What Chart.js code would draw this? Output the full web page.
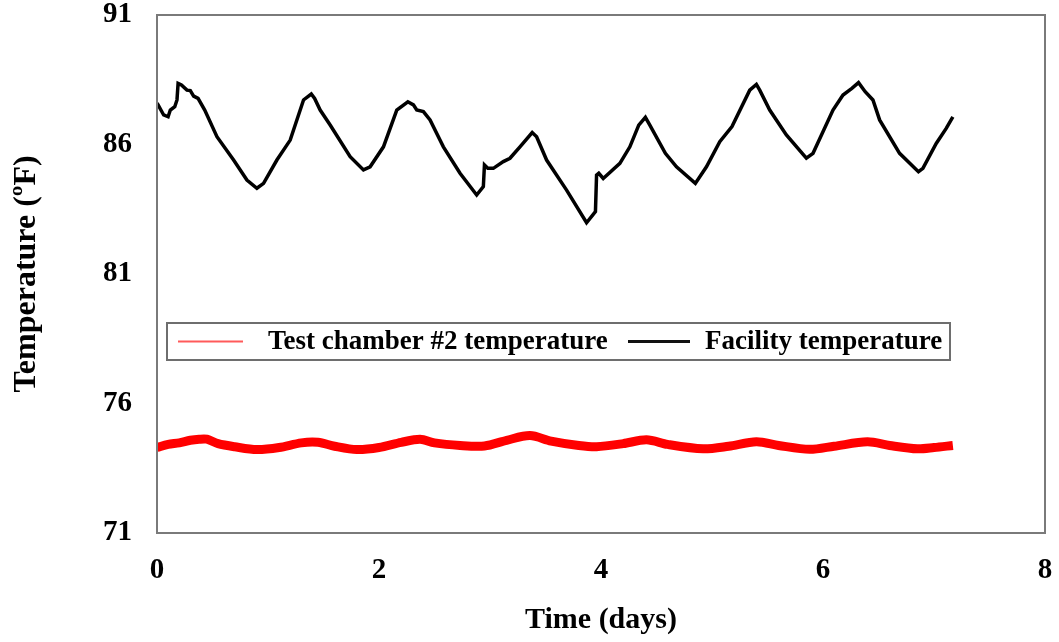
<!DOCTYPE html>
<html>
<head>
  <meta charset="UTF-8" />
  <title>Temperature</title>
  <style>
    html, body { margin: 0; padding: 0; background: #ffffff; }
    #wrap { width: 1059px; height: 642px; position: relative; }
  </style>
</head>
<body>
  <div id="wrap"><canvas id="tempChart" width="1059" height="642"></canvas></div>

  <script src="https://cdn.jsdelivr.net/npm/chart.js"></script>
  <script>
    // facility (black) curve
    const facilityDays = [0.00, 0.01, 0.06, 0.10, 0.12, 0.16, 0.18, 0.19, 0.22, 0.27, 0.30, 0.33, 0.37, 0.43, 0.54, 0.69, 0.81, 0.90, 0.96,
      1.08, 1.20, 1.32, 1.39, 1.42, 1.47, 1.56, 1.74, 1.86, 1.92, 2.04, 2.16, 2.26, 2.31, 2.34, 2.40, 2.46, 2.58, 2.73, 2.88,
      2.94, 2.95, 2.98, 3.03, 3.12, 3.18, 3.27, 3.38, 3.42, 3.51, 3.69, 3.87, 3.95, 3.96, 3.98, 4.02, 4.17, 4.26, 4.34, 4.40,
      4.44, 4.58, 4.68, 4.85, 4.95, 5.07, 5.18, 5.34, 5.40, 5.43, 5.52, 5.67, 5.85, 5.91, 6.09, 6.18, 6.26, 6.32, 6.38, 6.45,
      6.51, 6.69, 6.86, 6.90, 7.02, 7.11, 7.17];
    const facilityTemp = [87.60, 87.53, 87.14, 87.07, 87.33, 87.46, 87.72, 88.36, 88.30, 88.10, 88.08, 87.87, 87.78, 87.33, 86.30, 85.40, 84.63, 84.31, 84.50,
      85.40, 86.17, 87.72, 87.95, 87.78, 87.33, 86.75, 85.53, 85.02, 85.14, 85.91, 87.33, 87.65, 87.53, 87.33, 87.27, 86.95, 85.91, 84.89, 84.05,
      84.37, 85.21, 85.08, 85.08, 85.34, 85.47, 85.91, 86.46, 86.30, 85.40, 84.24, 82.98, 83.41, 84.82, 84.89, 84.69, 85.27, 85.91, 86.75, 87.05,
      86.75, 85.66, 85.14, 84.50, 85.14, 86.11, 86.69, 88.10, 88.32, 88.10, 87.33, 86.37, 85.47, 85.66, 87.33, 87.91, 88.17, 88.39, 88.04, 87.72,
      86.95, 85.66, 84.95, 85.08, 86.04, 86.62, 87.07];

    // test chamber #2 (red) curve
    const chamberDays = [0.00, 0.10, 0.20, 0.30, 0.38, 0.45, 0.55, 0.70, 0.90, 1.10, 1.30, 1.45, 1.60, 1.80, 2.00, 2.20, 2.37, 2.50, 2.73,
      2.95, 3.15, 3.36, 3.55, 3.80, 3.96, 4.20, 4.41, 4.60, 4.92, 5.15, 5.40, 5.60, 5.88, 6.10, 6.40, 6.60, 6.85, 7.00, 7.17];
    const chamberTemp = [74.30, 74.42, 74.48, 74.58, 74.62, 74.62, 74.45, 74.33, 74.22, 74.30, 74.48, 74.50, 74.35, 74.22, 74.30, 74.50, 74.62, 74.48, 74.38,
      74.36, 74.58, 74.76, 74.55, 74.38, 74.33, 74.45, 74.60, 74.42, 74.25, 74.35, 74.52, 74.38, 74.23, 74.35, 74.52, 74.38, 74.25, 74.30, 74.38];

    const yTicks = [71, 76, 81, 86, 91];
    const xTicks = [0, 2, 4, 6, 8];
    const seriesNames = ["Test chamber #2 temperature", "Facility temperature"];

    const serif = "'Liberation Serif', 'Times New Roman', serif";

    // frame + legend box drawn over the plot
    const frameAndLegend = {
      id: 'frameAndLegend',
      afterDraw(chart) {
        const { ctx, chartArea: a } = chart;
        ctx.save();
        ctx.strokeStyle = '#7a7a7a';
        ctx.lineWidth = 2;
        ctx.strokeRect(a.left, a.top, a.right - a.left, a.bottom - a.top);

        // legend
        const lx = 167, ly = 323, lw = 783, lh = 37;
        ctx.fillStyle = '#ffffff';
        ctx.fillRect(lx, ly, lw, lh);
        ctx.strokeStyle = '#6e6e6e';
        ctx.lineWidth = 2;
        ctx.strokeRect(lx, ly, lw, lh);
        const cy = ly + lh / 2;

        ctx.strokeStyle = '#ff5a5a';
        ctx.lineWidth = 2;
        ctx.beginPath(); ctx.moveTo(178, cy); ctx.lineTo(243, cy); ctx.stroke();
        ctx.strokeStyle = '#111111';
        ctx.lineWidth = 3;
        ctx.beginPath(); ctx.moveTo(628, cy); ctx.lineTo(690, cy); ctx.stroke();

        ctx.fillStyle = '#000000';
        ctx.font = "bold 27px " + serif;
        ctx.textBaseline = 'middle';
        ctx.textAlign = 'left';
        ctx.fillText(seriesNames[0], 268, cy + 1);
        ctx.fillText(seriesNames[1], 705, cy + 1);
        ctx.restore();
      }
    };

    const toPoints = (xs, ys) => xs.map((x, i) => ({ x: x, y: ys[i] }));

    new Chart(document.getElementById('tempChart'), {
      type: 'line',
      data: {
        datasets: [
          {
            label: seriesNames[0],
            data: toPoints(chamberDays, chamberTemp),
            borderColor: '#ff0000',
            borderWidth: 9,
            pointRadius: 0,
            tension: 0.3
          },
          {
            label: seriesNames[1],
            data: toPoints(facilityDays, facilityTemp),
            borderColor: '#000000',
            borderWidth: 3.5,
            pointRadius: 0,
            tension: 0
          }
        ]
      },
      options: {
        responsive: false,
        animation: false,
        layout: { padding: { left: 0, right: 14, top: 15, bottom: 0 } },
        plugins: {
          legend: { display: false },
          tooltip: { enabled: false }
        },
        scales: {
          x: {
            type: 'linear',
            min: 0,
            max: 8,
            afterBuildTicks: s => { s.ticks = xTicks.map(v => ({ value: v })); },
            afterFit: s => { s.height = 109; s.paddingLeft = 0; s.paddingRight = 0; },
            grid: { display: false, drawTicks: false },
            border: { display: false },
            ticks: { color: '#000', padding: 20, font: { family: serif, size: 29, weight: 'bold' } },
            title: {
              display: true,
              text: 'Time (days)',
              color: '#000',
              padding: { top: 0, bottom: 4 },
              font: { family: serif, size: 30, weight: 'bold' }
            }
          },
          y: {
            min: 71,
            max: 91,
            afterBuildTicks: s => { s.ticks = yTicks.map(v => ({ value: v })); },
            afterFit: s => { s.width = 157; s.paddingTop = 0; s.paddingBottom = 0; },
            grid: { display: false, drawTicks: false },
            border: { display: false },
            ticks: { color: '#000', padding: 25, font: { family: serif, size: 29, weight: 'bold' } },
            title: {
              display: true,
              text: 'Temperature (ºF)',
              color: '#000',
              padding: { top: 8, bottom: 0 },
              font: { family: serif, size: 32, weight: 'bold' }
            }
          }
        }
      },
      plugins: [frameAndLegend]
    });
  </script>
</body>
</html>
